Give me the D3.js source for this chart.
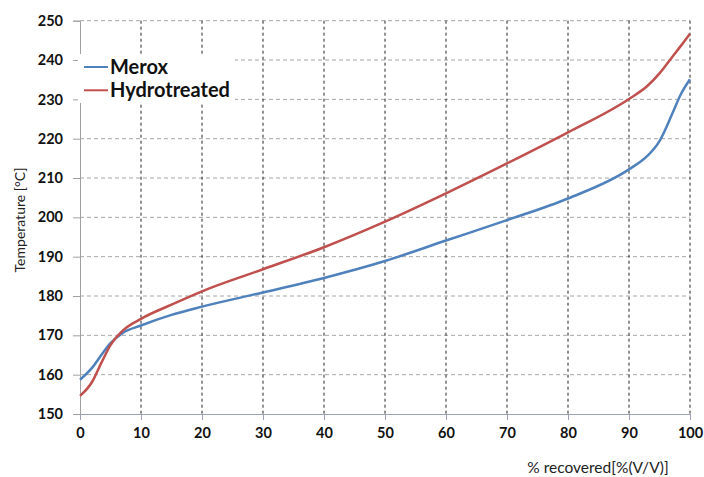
<!DOCTYPE html>
<html lang="en">
<head>
  <meta charset="utf-8">
  <title>Distillation curves</title>
  <script src="https://d3js.org/d3.v7.min.js"></script>
  <style>
    body { margin: 0; background: #fff; }
    .tick text { font-family: Lato, "Open Sans", sans-serif; font-weight: bold; font-size: 14.5px; fill: #111; }
    .grid-h line { stroke: #a6a6a6; stroke-dasharray: 4,3; }
    .grid-v line { stroke: #222; stroke-dasharray: 3,3; }
  </style>
</head>
<body>
<script>
  // % recovered (x) and temperatures
  const recovered = [0, 2, 3.5, 5, 7, 10, 15, 20, 30, 40, 50, 60, 70, 80, 90, 93, 95, 97, 98.5, 100];
  const merox = [158.7, 161.8, 165, 168, 170.6, 172.5, 175.2, 177.3, 180.9, 184.6, 188.9, 194.1, 199.3, 204.8, 212.2, 215.6, 219.4, 226, 231.3, 235.1];
  const hydrotreated = [154.6, 158.2, 163, 167.5, 171.2, 174.2, 177.8, 181.2, 186.8, 192.4, 198.9, 206.1, 213.7, 221.6, 230.1, 233.4, 236.6, 240.6, 243.6, 246.7];
  const xTicks = [0, 10, 20, 30, 40, 50, 60, 70, 80, 90, 100];
  const yTicks = [150, 160, 170, 180, 190, 200, 210, 220, 230, 240, 250];

  const series = [
    { name: "Merox", values: merox, color: "#4f81bd" },
    { name: "Hydrotreated", values: hydrotreated, color: "#c0504d" }
  ];

  const width = 704, height = 477;
  const svg = d3.select("body").append("svg")
    .attr("width", width)
    .attr("height", height);

  const x = d3.scaleLinear().domain([0, 100]).range([80, 690]);
  const y = d3.scaleLinear().domain([150, 250]).range([414, 20.7]);

  // horizontal grid
  svg.append("g")
    .attr("class", "grid-h")
    .selectAll("line")
    .data(yTicks.slice(1))
    .enter().append("line")
    .attr("x1", x(0)).attr("x2", x(100))
    .attr("y1", d => y(d)).attr("y2", d => y(d));

  // vertical grid
  svg.append("g")
    .attr("class", "grid-v")
    .selectAll("line")
    .data(xTicks.slice(1))
    .enter().append("line")
    .attr("x1", d => x(d)).attr("x2", d => x(d))
    .attr("y1", y(250)).attr("y2", y(150));

  // y axis
  const yAxis = svg.append("g")
    .attr("transform", "translate(" + x(0) + ",0)")
    .call(d3.axisLeft(y).tickValues(yTicks).tickSize(7).tickPadding(10));
  yAxis.select(".domain").attr("stroke", "#a0a0a0");
  yAxis.selectAll(".tick line").attr("stroke", "#a0a0a0");

  // x axis
  const xAxis = svg.append("g")
    .attr("transform", "translate(0," + y(150) + ")")
    .call(d3.axisBottom(x).tickValues(xTicks).tickSize(6).tickPadding(8));
  xAxis.select(".domain").attr("stroke", "#9aa0b8");
  xAxis.selectAll(".tick line").attr("stroke", "#9aa0b8");

  // lines
  const line = d3.line()
    .x((d, i) => x(recovered[i]))
    .y(d => y(d))
    .curve(d3.curveMonotoneX);

  svg.selectAll(".series")
    .data(series)
    .enter().append("path")
    .attr("class", "series")
    .attr("fill", "none")
    .attr("stroke", d => d.color)
    .attr("stroke-width", 2.5)
    .attr("d", d => line(d.values));

  // legend with white box over the grid
  const legend = svg.append("g");
  legend.append("rect")
    .attr("x", 78).attr("y", 54)
    .attr("width", 157).attr("height", 49)
    .attr("fill", "#fff");
  series.forEach((s, i) => {
    const ly = 67 + i * 23.3;
    legend.append("line")
      .attr("x1", 84).attr("x2", 108)
      .attr("y1", ly).attr("y2", ly)
      .attr("stroke", s.color)
      .attr("stroke-width", 2);
    legend.append("text")
      .attr("x", 110).attr("y", ly + 7)
      .style("font-family", "Lato, 'Open Sans', sans-serif")
      .style("font-weight", "bold")
      .style("font-size", "20px")
      .attr("fill", "#111")
      .text(s.name);
  });

  // axis titles
  svg.append("text")
    .attr("x", 598).attr("y", 472.5)
    .attr("text-anchor", "middle")
    .style("font-family", "Lato, 'Open Sans', sans-serif")
    .style("font-size", "15.5px")
    .attr("fill", "#222")
    .text("% recovered[%(V/V)]");

  svg.append("text")
    .attr("transform", "translate(25,220) rotate(-90)")
    .attr("text-anchor", "middle")
    .style("font-family", "Lato, 'Open Sans', sans-serif")
    .style("font-size", "14px")
    .attr("fill", "#222")
    .text("Temperature [°C]");
</script>
</body>
</html>
